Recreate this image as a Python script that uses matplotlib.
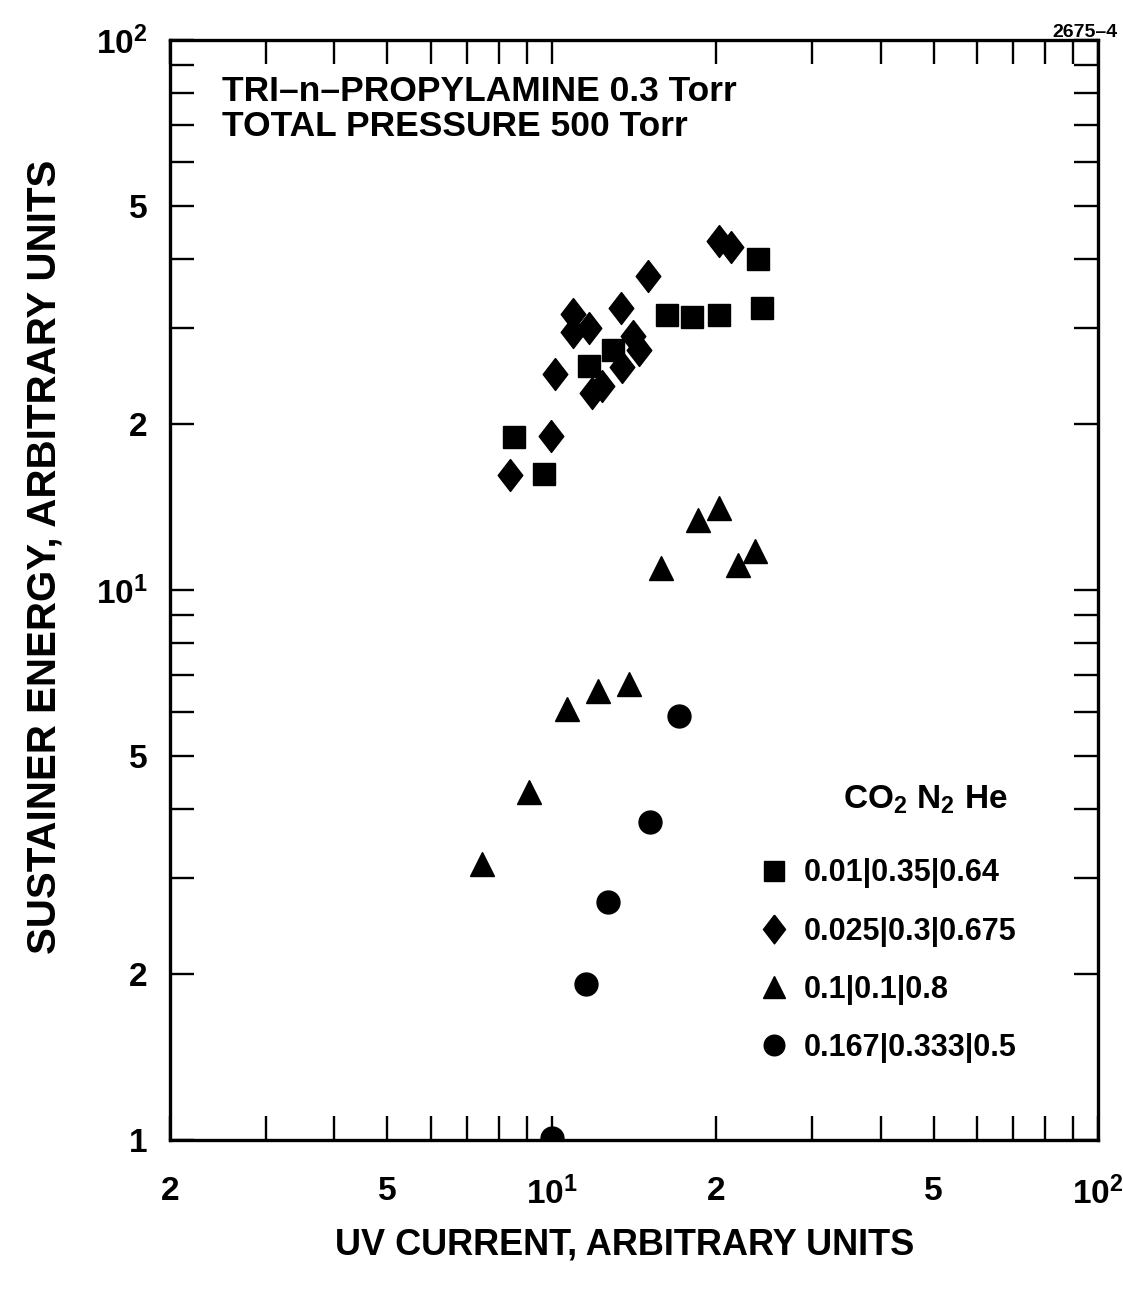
import matplotlib
matplotlib.use("Agg")
import matplotlib.pyplot as plt
from matplotlib.ticker import FixedLocator, FuncFormatter, NullFormatter

plt.rcParams['font.family'] = ['Liberation Sans', 'DejaVu Sans']
plt.rcParams['font.weight'] = 'bold'
plt.rcParams['mathtext.fontset'] = 'custom'
plt.rcParams['mathtext.rm'] = 'Liberation Sans:bold'
plt.rcParams['mathtext.default'] = 'regular'

# data (UV current, sustainer energy)
sq_x = [8.52, 9.69, 11.7, 12.97, 16.28, 18.08, 20.2, 23.9, 24.3]
sq_y = [19.0, 16.27, 25.5, 27.3, 31.6, 31.4, 31.6, 40.0, 32.6]

dm_x = [8.37, 9.95, 10.15, 10.94, 10.95, 11.71, 11.87, 12.37, 13.37, 13.42, 14.09, 14.45, 14.98, 20.2, 21.25]
dm_y = [16.2, 19.06, 24.7, 31.8, 29.5, 29.9, 22.85, 23.5, 32.6, 25.4, 29.0, 27.3, 37.2, 43.1, 42.1]

tr_x = [7.44, 9.08, 10.67, 12.13, 13.86, 15.83, 18.5, 20.2, 21.9, 23.6]
tr_y = [3.18, 4.30, 6.07, 6.54, 6.75, 10.98, 13.4, 14.1, 11.09, 11.77]

ci_x = [10.0, 11.54, 12.69, 15.16, 17.13]
ci_y = [1.01, 1.92, 2.71, 3.78, 5.89]

labels = ['0.01|0.35|0.64', '0.025|0.3|0.675', '0.1|0.1|0.8', '0.167|0.333|0.5']

x_major = [2, 5, 10, 20, 50, 100]
x_minor = [3, 4, 6, 7, 8, 9, 30, 40, 60, 70, 80, 90]
y_major = [1, 2, 5, 10, 20, 50, 100]
y_minor = [3, 4, 6, 7, 8, 9, 30, 40, 60, 70, 80, 90]

diamond = [(0, 1), (0.77, 0), (0, -1), (-0.77, 0), (0, 1)]


def fmt(v, pos):
    if v == 10:
        return '10$^1$'
    if v == 100:
        return '10$^2$'
    s = '%g' % v
    return s[0]


fig = plt.figure(figsize=(11.23, 12.9), dpi=100)
ax = fig.add_axes([170/1123, 1-1140/1290, 928/1123, 1100/1290])
ax.set_xscale('log')
ax.set_yscale('log')
ax.set_xlim(2, 100)
ax.set_ylim(1, 100)

ax.plot(sq_x, sq_y, 's', color='black', ms=15.5, label=labels[0])
ax.plot(dm_x, dm_y, marker=diamond, ls='none', color='black', ms=23, label=labels[1])
ax.plot(tr_x, tr_y, '^', color='black', ms=17.5, label=labels[2])
ax.plot(ci_x, ci_y, 'o', color='black', ms=16.5, label=labels[3])

ax.xaxis.set_major_locator(FixedLocator(x_major))
ax.xaxis.set_minor_locator(FixedLocator(x_minor))
ax.yaxis.set_major_locator(FixedLocator(y_major))
ax.yaxis.set_minor_locator(FixedLocator(y_minor))
ax.xaxis.set_major_formatter(FuncFormatter(fmt))
ax.yaxis.set_major_formatter(FuncFormatter(fmt))
ax.xaxis.set_minor_formatter(NullFormatter())
ax.yaxis.set_minor_formatter(NullFormatter())

ax.tick_params(which='both', direction='in', length=17, width=1.7,
               top=True, right=True, labelsize=24)
ax.tick_params(axis='x', which='major', pad=26)
ax.tick_params(axis='y', which='major', pad=16)
for s in ax.spines.values():
    s.set_linewidth(2.4)

ax.set_xlabel('UV CURRENT, ARBITRARY UNITS', fontsize=26, fontweight='bold')
ax.set_ylabel('SUSTAINER ENERGY, ARBITRARY UNITS', fontsize=29, fontweight='bold')
ax.xaxis.set_label_coords(0.49, -0.08)
ax.yaxis.set_label_coords(-0.115, 0.53)

ax.text(0.056, 0.953, 'TRI\u2013n\u2013PROPYLAMINE 0.3 Torr', transform=ax.transAxes,
        fontsize=25.5, fontweight='bold', va='center', ha='left')
ax.text(0.056, 0.921, 'TOTAL PRESSURE 500 Torr', transform=ax.transAxes,
        fontsize=25.5, fontweight='bold', va='center', ha='left')
ax.text(0.814, 0.309, 'CO$_2$ N$_2$ He', transform=ax.transAxes,
        fontsize=24, fontweight='bold', va='center', ha='center')
fig.text(0.995, 0.975, '2675\u20134', fontsize=14, fontweight='bold', ha='right', va='center')

ax.legend(loc='upper left', bbox_to_anchor=(0.634, 0.256), frameon=False,
          prop={'size': 22, 'weight': 'bold'}, borderpad=0, borderaxespad=0,
          handlelength=1.0, handletextpad=0.5, labelspacing=0.92, numpoints=1,
          markerscale=0.9)

fig.savefig('out.png', dpi=100)
